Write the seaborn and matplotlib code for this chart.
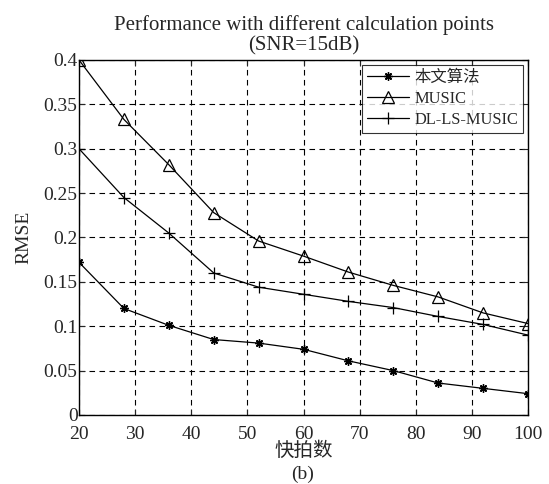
import matplotlib
matplotlib.use('Agg')
import matplotlib.pyplot as plt
import seaborn as sns

snapshots = [20, 28, 36, 44, 52, 60, 68, 76, 84, 92, 100]
rmse_proposed = [0.172, 0.120, 0.101, 0.085, 0.081, 0.074, 0.061, 0.050, 0.036, 0.030, 0.024]
rmse_music = [0.400, 0.333, 0.282, 0.228, 0.196, 0.179, 0.161, 0.146, 0.133, 0.115, 0.103]
rmse_dlls = [0.300, 0.245, 0.205, 0.160, 0.144, 0.136, 0.128, 0.121, 0.111, 0.102, 0.090]
labels = ['本文算法', 'MUSIC', 'DL-LS-MUSIC']

sns.set_style('ticks')
plt.rcParams['font.family'] = ['Liberation Serif', 'Noto Sans CJK SC']
plt.rcParams['xtick.direction'] = 'in'
plt.rcParams['ytick.direction'] = 'in'

fig = plt.figure(figsize=(5.49, 4.84), dpi=100)
ax = fig.add_axes([0.1439, 0.1426, 0.8179, 0.7335])

# asterisk marker like the MATLAB '*'
sns.lineplot(x=snapshots, y=rmse_proposed, color='black', lw=0.9, marker=(8, 2, 0), ms=6,
             markeredgecolor='black', markeredgewidth=1.0, label=labels[0], ax=ax)
sns.lineplot(x=snapshots, y=rmse_music, color='black', lw=0.9, marker='^', ms=9,
             markerfacecolor='none', markeredgecolor='black', markeredgewidth=0.9,
             label=labels[1], ax=ax)
sns.lineplot(x=snapshots, y=rmse_dlls, color='black', lw=0.9, marker='+', ms=9,
             markeredgecolor='black', markeredgewidth=0.9, label=labels[2], ax=ax)

ax.set_xlim(20, 100)
ax.set_ylim(0, 0.4)
ax.set_xticks(range(20, 101, 10))
ax.set_yticks([0, 0.05, 0.1, 0.15, 0.2, 0.25, 0.3, 0.35, 0.4])
ax.set_yticklabels(['0', '0.05', '0.1', '0.15', '0.2', '0.25', '0.3', '0.35', '0.4'])
ax.tick_params(labelsize=14, top=True, right=True, length=4, width=0.8, pad=1)
ax.tick_params(axis='x', pad=8)
ax.get_yticklabels()[0].set_va('center_baseline')
ax.grid(True, color='black', linestyle=(0, (5, 4)), lw=0.8)
for s in ax.spines.values():
    s.set_linewidth(1.0)
    s.set_color('black')

ax.set_xlabel('快拍数', fontsize=14, labelpad=-1)
ax.set_ylabel('RMSE', fontsize=14, labelpad=8)
ax.set_title('Performance with different calculation points\n(SNR=15dB)', fontsize=15,
             linespacing=1.1, pad=7)
fig.text(0.552, 0.010, '(b)', fontsize=14, ha='center')

leg = ax.legend(loc='upper right', fontsize=11.8, frameon=True, fancybox=False,
                edgecolor='black', handlelength=2.6, handletextpad=0.3, borderpad=0.3,
                labelspacing=0.3, borderaxespad=0.3)
leg.get_frame().set_linewidth(0.8)

fig.savefig('out.png', dpi=100)
